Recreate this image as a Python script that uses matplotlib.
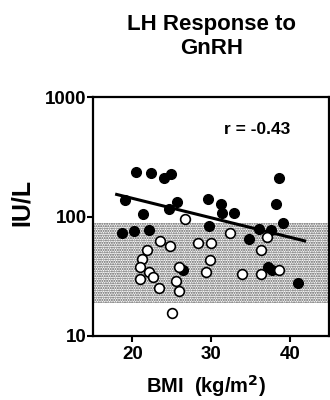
import matplotlib
matplotlib.use("Agg")
import matplotlib.pyplot as plt

plt.rcParams['font.family'] = ['Liberation Sans', 'DejaVu Sans']
plt.rcParams['font.weight'] = 'bold'
plt.rcParams['hatch.linewidth'] = 1.0
plt.rcParams['hatch.color'] = '#555555'

# filled circles
bmi_filled = [20.5, 22.4, 24.05, 24.9, 19.0, 21.3, 25.7, 24.7, 29.6, 31.3, 31.4,
              32.9, 38.2, 39.2, 29.8, 36.1, 37.6, 34.8, 18.7, 20.25, 22.1, 38.6,
              26.4, 37.3, 37.8, 41.0]
lh_filled = [236, 229, 208, 226, 137, 104, 131, 115, 140, 128, 108,
             108, 128, 89, 84, 79, 77, 65, 73, 75, 77, 212,
             36, 38, 35.5, 28]

# open circles
bmi_open = [26.7, 32.4, 37.1, 23.5, 24.8, 28.35, 30.0, 21.8, 36.3, 29.85, 21.2,
            21.0, 22.1, 22.6, 21.0, 25.9, 29.4, 25.5, 23.4, 25.9, 25.0, 34.0,
            36.4, 38.6]
lh_open = [96, 73, 68, 62, 57, 60, 60, 52, 52, 43, 44,
           38, 34, 31, 30, 38, 34, 29, 25, 24, 15.5, 33,
           33, 36]

# regression line end points
fit_bmi = [18.0, 41.9]
fit_lh = [153, 62.5]

normal_range = [19, 88]

fig = plt.figure(figsize=(3.3, 4.0), dpi=100)
ax = fig.add_axes([0.282, 0.16, 0.715, 0.5975])

ax.axhspan(normal_range[0], normal_range[1], facecolor='white', edgecolor='#555555',
           hatch='.......', lw=0, zorder=0)
ax.plot(fit_bmi, fit_lh, color='black', lw=2.2, zorder=2)
ax.plot(bmi_filled, lh_filled, 'o', ms=7, mfc='black', mec='black', zorder=3)
ax.plot(bmi_open, lh_open, 'o', ms=7, mfc='white', mec='black', mew=1.2, zorder=4)

ax.set_yscale('log')
ax.set_ylim(10, 1000)
ax.set_xlim(15, 45)
ax.set_yticks([10, 100, 1000])
ax.set_yticklabels(['10', '100', '1000'])
ax.minorticks_off()
ax.set_xticks([20, 30, 40])
ax.tick_params(direction='out', length=4, width=1.5, labelsize=13.5)
ax.tick_params(axis='y', pad=0.5)
ax.tick_params(axis='x', pad=3)
for s in ax.spines.values():
    s.set_linewidth(1.6)

fig.text(0.067, 0.495, 'IU/L', rotation=90, fontsize=18, fontweight='bold',
         ha='center', va='center')
fig.text(0.625, 0.018, 'BMI  (kg/m$^\\mathbf{2}$)', fontsize=14.5, fontweight='bold',
         ha='center', va='baseline')
ax.text(0.695, 0.866, 'r = -0.43', transform=ax.transAxes, fontsize=12.5,
        fontweight='bold', ha='center', va='center')

fig.text(0.64, 0.909, 'LH Response to\nGnRH', ha='center', va='center',
         fontsize=16, fontweight='bold', linespacing=1.2)

fig.savefig('out.png', dpi=100)
